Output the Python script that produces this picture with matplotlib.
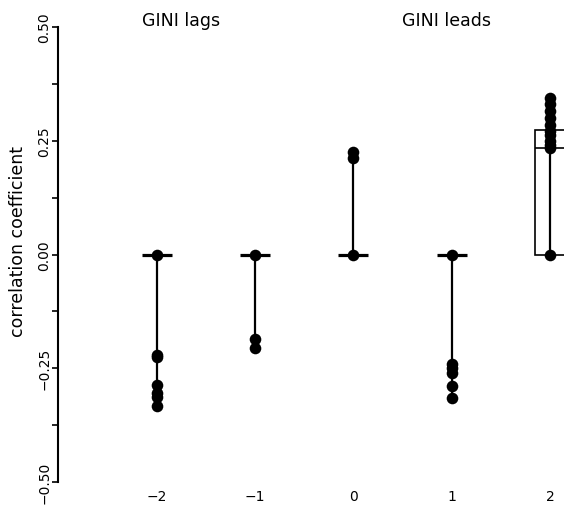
import numpy as np
import matplotlib
matplotlib.use("Agg")
import matplotlib.pyplot as plt
from matplotlib.patches import Rectangle

# Datos
lags = [-2, -1, 0, 1, 2]
tick_labels = ["\u22122", "\u22121", "0", "1", "2"]
points = [
    [0.0, -0.220, -0.226, -0.287, -0.305, -0.313, -0.333],
    [0.0, -0.186, -0.205],
    [0.0, 0.213, 0.226],
    [0.0, -0.241, -0.250, -0.260, -0.289, -0.316],
    [0.0, 0.234, 0.240, 0.250, 0.262, 0.272, 0.285, 0.300, 0.315, 0.330, 0.345],
]
q1 = [0.0, 0.0, 0.0, 0.0, 0.0]
med = [0.0, 0.0, 0.0, 0.0, 0.234]
q3 = [0.0, 0.0, 0.0, 0.0, 0.273]
whislo = [-0.333, -0.205, 0.0, -0.316, 0.0]
whishi = [0.0, 0.0, 0.226, 0.0, 0.273]

fig = plt.figure(figsize=(5.64, 5.06), dpi=100)
ax = fig.add_axes([58 / 564, 1 - 483 / 506, 1 - 58 / 564, (483 - 28) / 506])

hw = 0.152  # media anchura de la caja
for x, pts, a, m, b, lo, hi in zip(lags, points, q1, med, q3, whislo, whishi):
    ax.vlines(x, lo, hi, color="black", lw=1.6, zorder=2)
    if b > a:
        ax.add_patch(Rectangle((x - hw, a), 2 * hw, b - a, fill=False,
                               ec="black", lw=1.2, zorder=2))
        ax.hlines(m, x - hw, x + hw, color="black", lw=1.2, zorder=2)
    else:
        ax.hlines(m, x - hw, x + hw, color="black", lw=2.3, zorder=2)
    ax.scatter(np.full(len(pts), x), pts, s=70, color="black", zorder=3,
               linewidths=0)

ax.set_xlim(-3.005, 2.142)
ax.set_ylim(-0.5, 0.5)

for s in ["top", "right", "bottom"]:
    ax.spines[s].set_visible(False)
ax.spines["left"].set_linewidth(1.5)

ax.set_xticks(lags)
ax.set_xticklabels(tick_labels, fontsize=10)
ax.tick_params(axis="x", length=0, pad=5)

ax.set_yticks(np.arange(-0.5, 0.501, 0.125))
ax.set_yticklabels(["\u22120.50", "", "\u22120.25", "", "0.00", "", "0.25", "", "0.50"],
                   fontsize=10, rotation=90, va="center")
ax.tick_params(axis="y", length=4, width=1.2, pad=1)

ax.set_ylabel("correlation coefficient", fontsize=12.5)
ax.yaxis.set_label_coords(-0.062, 0.53)

ax.text(-1.75, 0.515, "GINI lags", fontsize=12.5, ha="center", va="center", clip_on=False)
ax.text(0.945, 0.515, "GINI leads", fontsize=12.5, ha="center", va="center", clip_on=False)

fig.savefig("out.png", dpi=100)
